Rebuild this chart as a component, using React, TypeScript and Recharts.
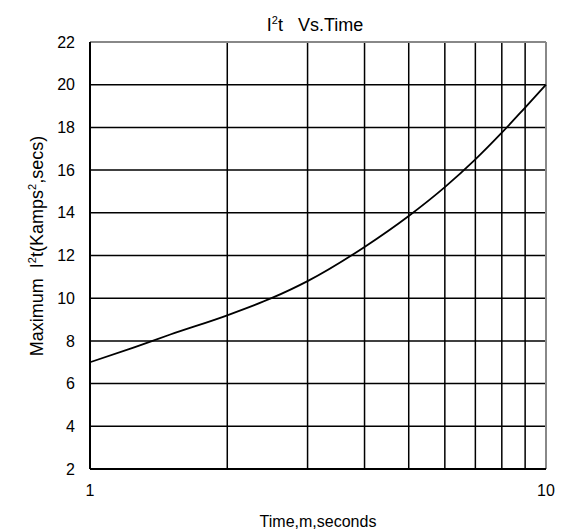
import { LineChart, Line, XAxis, YAxis, CartesianGrid, ReferenceLine } from 'recharts';

const times = [1, 1.25, 1.5, 2, 2.5, 3, 4, 5, 6, 7, 8, 9, 10];
const i2tValues = [7, 7.7, 8.3, 9.2, 10, 10.8, 12.4, 13.85, 15.2, 16.5, 17.75, 18.93, 20];
const xTicks = [1, 2, 3, 4, 5, 6, 7, 8, 9, 10];
const xTickLabels = [1, 10];
const yTicks = [2, 4, 6, 8, 10, 12, 14, 16, 18, 20, 22];

const data = times.map((t, i) => ({ time: t, i2t: i2tValues[i] }));

const FONT = '"Liberation Sans", Arial, sans-serif';

export default function App() {
  return (
    <div style={{ position: 'absolute', left: 0, top: 0, background: '#fff' }}>
      <div
        style={{
          position: 'absolute',
          left: 0,
          width: 630,
          top: 14,
          textAlign: 'center',
          fontFamily: FONT,
          fontSize: 18,
          color: '#000',
          zIndex: 2,
          whiteSpace: 'pre',
        }}
      >
        I<sup style={{ fontSize: 11 }}>2</sup>t   Vs.Time
      </div>
      <LineChart
        width={569}
        height={532}
        data={data}
        margin={{ top: 42, right: 23, bottom: 33, left: 50 }}
      >
        <CartesianGrid stroke="#000" strokeWidth={1.5} fill="#fff" />
        <XAxis
          dataKey="time"
          type="number"
          scale="log"
          domain={[1, 10]}
          ticks={xTicks}
          tickFormatter={(v: number) => (xTickLabels.includes(v) ? String(v) : '')}
          tickLine={false}
          tickSize={6}
          tickMargin={10}
          height={30}
          axisLine={{ stroke: '#000', strokeWidth: 2 }}
          tick={{ fill: '#000', fontSize: 16, fontFamily: FONT }}
          label={{
            content: () => (
              <text x={318} y={527} textAnchor="middle" fontSize={16} fontFamily={FONT} fill="#000">
                Time,m,seconds
              </text>
            ),
          }}
        />
        <YAxis
          type="number"
          domain={[2, 22]}
          ticks={yTicks}
          tickLine={false}
          tickSize={6}
          tickMargin={9}
          width={40}
          axisLine={{ stroke: '#000', strokeWidth: 2 }}
          tick={{ fill: '#000', fontSize: 16, fontFamily: FONT }}
          label={{
            content: () => (
              <text
                x={43}
                y={246}
                transform="rotate(-90 43 246)"
                textAnchor="middle"
                fontSize={18}
                fontFamily={FONT}
                fill="#000"
                style={{ whiteSpace: 'pre' }}
              >
                {'Maximum  I'}
                <tspan fontSize={11} dy={-7}>2</tspan>
                <tspan dy={7}>t(Kamps</tspan>
                <tspan fontSize={11} dy={-7}>2</tspan>
                <tspan dy={7}>,secs)</tspan>
              </text>
            ),
          }}
        />
        <ReferenceLine y={22} stroke="#888" strokeWidth={2} />
        <ReferenceLine x={10} stroke="#888" strokeWidth={2} />
        <Line
          type="monotone"
          dataKey="i2t"
          stroke="#000"
          strokeWidth={1.8}
          dot={false}
          isAnimationActive={false}
        />
      </LineChart>
    </div>
  );
}
